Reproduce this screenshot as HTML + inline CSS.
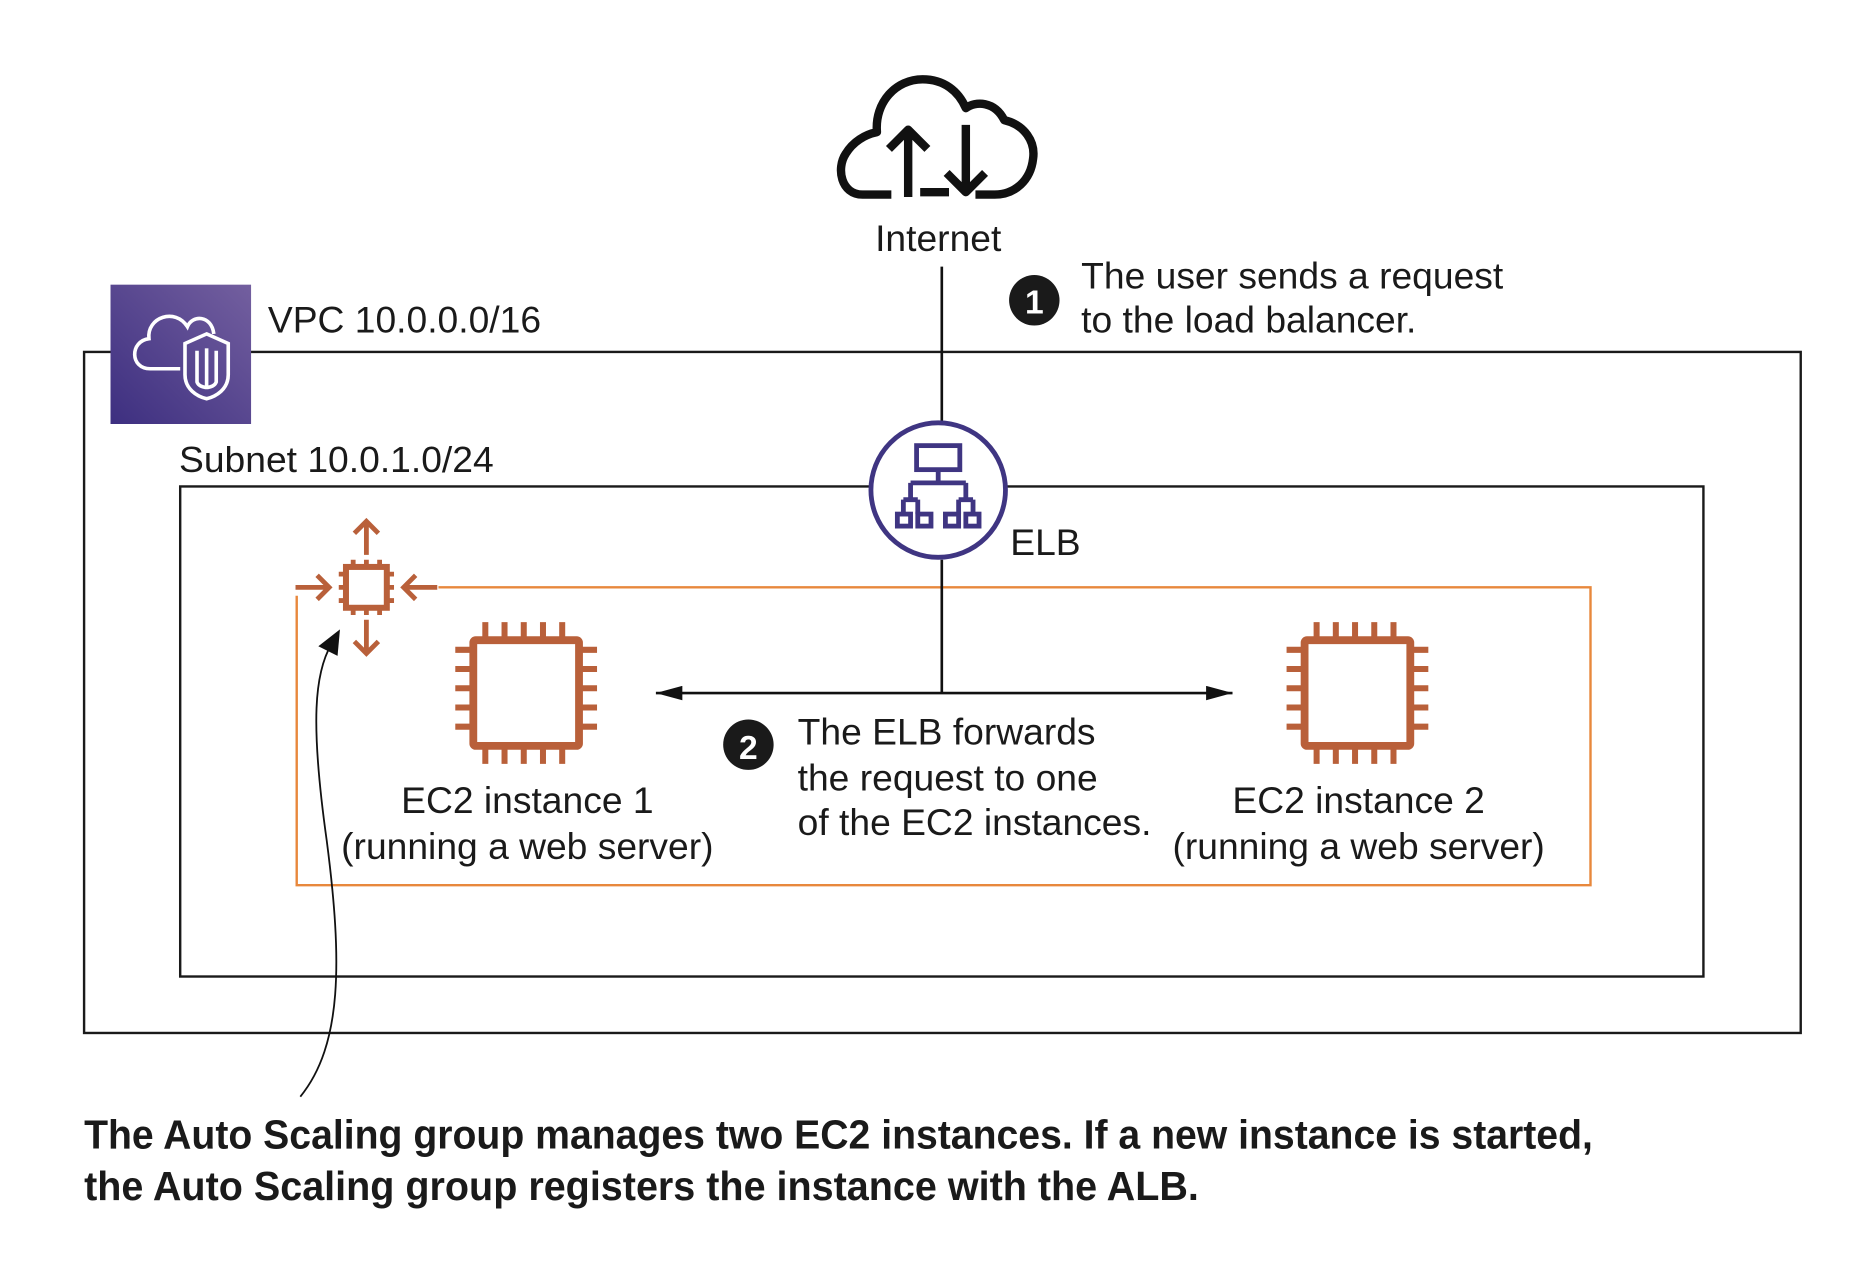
<!DOCTYPE html>
<html><head><meta charset="utf-8">
<style>
html,body{margin:0;padding:0;background:#fff;}
svg{display:block;}
text{font-family:"Liberation Sans",sans-serif;fill:#1a1a1a;}
</style></head>
<body>
<svg width="1874" height="1272" viewBox="0 0 1560 1059" preserveAspectRatio="none" xmlns="http://www.w3.org/2000/svg">
<defs>
<linearGradient id="pg" x1="0" y1="1" x2="1" y2="0">
<stop offset="0" stop-color="#3d2f80"/><stop offset="1" stop-color="#735f9f"/>
</linearGradient>
<marker id="ah" viewBox="0 0 10 10" refX="10" refY="5" markerWidth="22" markerHeight="12" markerUnits="userSpaceOnUse" orient="auto-start-reverse" preserveAspectRatio="none">
<path d="M0,0 L10,5 L0,10 z" fill="#111"/>
</marker>
<g id="chip">
<rect x="-44" y="-44" width="88" height="88" rx="2" fill="none" stroke="#b9603a" stroke-width="6.5"/>
<g stroke="#b9603a" stroke-width="5">
<path d="M-34,-44V-59 M-18,-44V-59 M-2,-44V-59 M14,-44V-59 M30,-44V-59"/>
<path d="M-34,44V59 M-18,44V59 M-2,44V59 M14,44V59 M30,44V59"/>
<path d="M-44,-36H-59 M-44,-20H-59 M-44,-4H-59 M-44,12H-59 M-44,28H-59"/>
<path d="M44,-36H59 M44,-20H59 M44,-4H59 M44,12H59 M44,28H59"/>
</g>
</g>
</defs>

<!-- Internet cloud -->
<g fill="none" stroke="#111" stroke-width="7" stroke-linejoin="round">
<path d="M742,162 H718 C700,162 696,140 704,128 C710,118 720,112 730,110 C728,85 746,66 768,66 C786,66 798,76 804,90 C812,84 828,84 836,100 C853,104 862,118 860,132 C858,150 845,162 828,162 H812"/>
<path d="M756,164 V108 M740,124 L756,108 L772,124"/>
<path d="M804,104 V160 M788,144 L804,160 L820,144"/>
<path d="M766,160 H790"/>
</g>
<text x="781" y="209" font-size="31" text-anchor="middle">Internet</text>

<!-- Step 1 -->
<circle cx="861" cy="250" r="21" fill="#1a1a1a"/>
<text x="861" y="261" font-size="28" font-weight="bold" text-anchor="middle" style="fill:#fff">1</text>
<text x="900" y="240" font-size="31">The user sends a request</text>
<text x="900" y="277" font-size="31">to the load balancer.</text>

<!-- VPC -->
<rect x="70" y="293" width="1429" height="567" fill="none" stroke="#1a1a1a" stroke-width="2"/>
<rect x="92" y="237" width="117" height="116" fill="url(#pg)"/>
<g fill="none" stroke="#fff" stroke-width="3">
<path d="M150,307 H125 C108,307 108,284 124,282 C122,264 146,256 156,272 C160,262 176,262 178,278"/>
<path d="M172,278 L190,286 V312 C190,324 180,330 172,332 C164,330 154,324 154,312 V286 Z"/>
<path d="M164,292 V318 C166,324 178,324 180,318 V292"/>
<path d="M172,290 V324"/>
</g>
<text x="223" y="277" font-size="31">VPC 10.0.0.0/16</text>

<!-- Subnet -->
<rect x="150" y="405" width="1268" height="408" fill="none" stroke="#1a1a1a" stroke-width="2"/>
<text x="149" y="393" font-size="30" textLength="262" lengthAdjust="spacingAndGlyphs">Subnet 10.0.1.0/24</text>

<!-- Orange ASG box -->
<path d="M365,489 H1324 V737 H247 V496" fill="none" stroke="#e8883c" stroke-width="2"/>

<!-- internet -> ELB line -->
<line x1="784" y1="222" x2="784" y2="352" stroke="#111" stroke-width="2.2"/>

<!-- ELB -->
<circle cx="781" cy="408" r="56" fill="#fff" stroke="#3f3582" stroke-width="4"/>
<g fill="none" stroke="#3f3582" stroke-width="4">
<rect x="763" y="371" width="36" height="20"/>
<path d="M781,391 V402 M758,402 H804 M758,402 V416 M804,402 V416 M752,416 H764 M798,416 H810"/>
<rect x="747" y="428" width="11" height="10"/><rect x="764" y="428" width="11" height="10"/>
<rect x="787" y="428" width="11" height="10"/><rect x="804" y="428" width="11" height="10"/>
<path d="M752,416 V428 M764,416 V428 M798,416 V428 M810,416 V428"/>
</g>
<text x="841" y="462" font-size="31">ELB</text>

<!-- forwarding lines -->
<line x1="784" y1="466" x2="784" y2="577" stroke="#111" stroke-width="2.2"/>
<line x1="546" y1="577" x2="1026" y2="577" stroke="#111" stroke-width="2.2" marker-start="url(#ah)" marker-end="url(#ah)"/>

<!-- Step 2 -->
<circle cx="623" cy="620" r="21" fill="#1a1a1a"/>
<text x="623" y="632" font-size="28" font-weight="bold" text-anchor="middle" style="fill:#fff">2</text>
<text x="664" y="620" font-size="31">The ELB forwards</text>
<text x="664" y="658" font-size="31">the request to one</text>
<text x="664" y="695" font-size="31">of the EC2 instances.</text>

<!-- EC2 chips -->
<use href="#chip" x="438" y="577"/>
<use href="#chip" x="1130" y="577"/>
<text x="439" y="677" font-size="31" text-anchor="middle">EC2 instance 1</text>
<text x="439" y="715" font-size="31" text-anchor="middle">(running a web server)</text>
<text x="1131" y="677" font-size="31" text-anchor="middle">EC2 instance 2</text>
<text x="1131" y="715" font-size="31" text-anchor="middle">(running a web server)</text>

<!-- Auto scaling icon -->
<g fill="none" stroke="#b9603a" stroke-width="4">
<rect x="288" y="472" width="34" height="34" stroke-width="5"/>
<path d="M294,472 V466 M305,472 V466 M316,472 V466 M294,506 V512 M305,506 V512 M316,506 V512 M288,478 H282 M288,489 H282 M288,500 H282 M322,478 H328 M322,489 H328 M322,500 H328"/>
<path d="M305,462 V434 M295,444 L305,434 L315,444"/>
<path d="M305,516 V544 M295,534 L305,544 L315,534"/>
<path d="M246,489 H274 M264,479 L274,489 L264,499"/>
<path d="M364,489 H336 M346,479 L336,489 L346,499"/>
</g>

<!-- curved pointer -->
<path d="M250,913 C285,870 285,800 272,700 C258,600 262,560 276,536" fill="none" stroke="#111" stroke-width="1.5"/>
<path d="M283,524 L265,538 L281,546 Z" fill="#111"/>

<!-- bottom caption -->
<text x="70" y="956" font-size="34" font-weight="bold" textLength="1256" lengthAdjust="spacingAndGlyphs" style="font-family:'Liberation Sans Narrow','Liberation Sans',sans-serif">The Auto Scaling group manages two EC2 instances. If a new instance is started,</text>
<text x="70" y="999" font-size="34" font-weight="bold" textLength="928" lengthAdjust="spacingAndGlyphs" style="font-family:'Liberation Sans Narrow','Liberation Sans',sans-serif">the Auto Scaling group registers the instance with the ALB.</text>
</svg>
</body></html>
